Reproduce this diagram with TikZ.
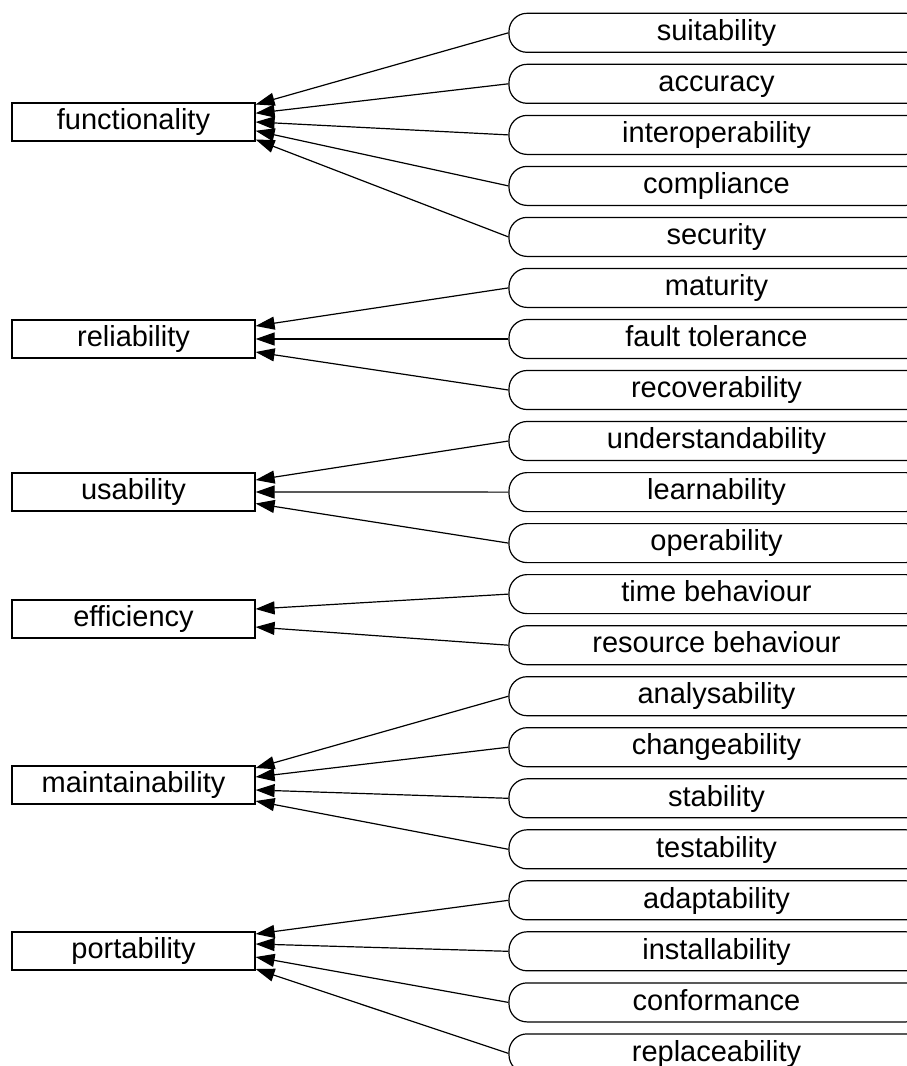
\documentclass[tikz,border=0pt]{standalone}
\usepackage{fontspec}
\setmainfont{Liberation Sans}
\usetikzlibrary{arrows.meta}
\begin{document}
\begin{tikzpicture}[x=1pt,y=-1pt,
  every node/.append style={font=\fontsize{29}{32}\selectfont, text height=21pt, text depth=5.5pt},
  attr/.style={draw, line width=1.2pt, minimum width=243pt, minimum height=38pt, inner sep=0pt},
  sub/.style={draw, line width=1.2pt, rounded corners=18pt, minimum width=415pt, minimum height=39pt, inner sep=0pt},
  link/.style={line width=1.2pt, -{Triangle[length=19pt,width=13pt]}}]
\useasboundingbox (0,0) rectangle (907,1066);
\clip (0,0) rectangle (907,1066);

% quality characteristics
\node[attr] (functionality)   at (133.5,122) {functionality};
\node[attr] (reliability)     at (133.5,339) {reliability};
\node[attr] (usability)       at (133.5,492) {usability};
\node[attr] (efficiency)      at (133.5,619) {efficiency};
\node[attr] (maintainability) at (133.5,785) {maintainability};
\node[attr] (portability)     at (133.5,951) {portability};

% sub-characteristics
\node[sub] (suitability)      at (716.5,32.8)   {suitability};
\node[sub] (accuracy)         at (716.5,83.8)   {accuracy};
\node[sub] (interoperability) at (716.5,134.9)  {interoperability};
\node[sub] (compliance)       at (716.5,185.9)  {compliance};
\node[sub] (security)         at (716.5,236.9)  {security};
\node[sub] (maturity)         at (716.5,287.9)  {maturity};
\node[sub] (faulttolerance)   at (716.5,339.0)  {fault tolerance};
\node[sub] (recoverability)   at (716.5,390.0)  {recoverability};
\node[sub] (understandability) at (716.5,441.0) {understandability};
\node[sub] (learnability)     at (716.5,492.1)  {learnability};
\node[sub] (operability)      at (716.5,543.1)  {operability};
\node[sub] (timebehaviour)    at (716.5,594.1)  {time behaviour};
\node[sub] (resourcebehaviour) at (716.5,645.2) {resource behaviour};
\node[sub] (analysability)    at (716.5,696.2)  {analysability};
\node[sub] (changeability)    at (716.5,747.2)  {changeability};
\node[sub] (stability)        at (716.5,798.3)  {stability};
\node[sub] (testability)      at (716.5,849.3)  {testability};
\node[sub] (adaptability)     at (716.5,900.3)  {adaptability};
\node[sub] (installability)   at (716.5,951.3)  {installability};
\node[sub] (conformance)      at (716.5,1002.4) {conformance};
\node[sub] (replaceability)   at (716.5,1053.4) {replaceability};

% edges into functionality
\draw[link] (suitability.west)      -- ([yshift=17.5pt]functionality.east);
\draw[link] (accuracy.west)         -- ([yshift=8.75pt]functionality.east);
\draw[link] (interoperability.west) -- (functionality.east);
\draw[link] (compliance.west)       -- ([yshift=-8.75pt]functionality.east);
\draw[link] (security.west)         -- ([yshift=-17.5pt]functionality.east);

% edges into reliability
\draw[link] (maturity.west)       -- ([yshift=13pt]reliability.east);
\draw[link] (faulttolerance.west) -- (reliability.east);
\draw[link] (recoverability.west) -- ([yshift=-13pt]reliability.east);

% edges into usability
\draw[link] (understandability.west) -- ([yshift=12pt]usability.east);
\draw[link] (learnability.west)      -- (usability.east);
\draw[link] (operability.west)       -- ([yshift=-11.5pt]usability.east);

% edges into efficiency
\draw[link] (timebehaviour.west)     -- ([yshift=10pt]efficiency.east);
\draw[link] (resourcebehaviour.west) -- ([yshift=-8pt]efficiency.east);

% edges into maintainability
\draw[link] (analysability.west) -- ([yshift=17pt]maintainability.east);
\draw[link] (changeability.west) -- ([yshift=8pt]maintainability.east);
\draw[link] (stability.west)     -- ([yshift=-5pt]maintainability.east);
\draw[link] (testability.west)   -- ([yshift=-16pt]maintainability.east);

% edges into portability
\draw[link] (adaptability.west)   -- ([yshift=17pt]portability.east);
\draw[link] (installability.west) -- ([yshift=7pt]portability.east);
\draw[link] (conformance.west)    -- ([yshift=-6pt]portability.east);
\draw[link] (replaceability.west) -- ([yshift=-18pt]portability.east);
\end{tikzpicture}
\end{document}
